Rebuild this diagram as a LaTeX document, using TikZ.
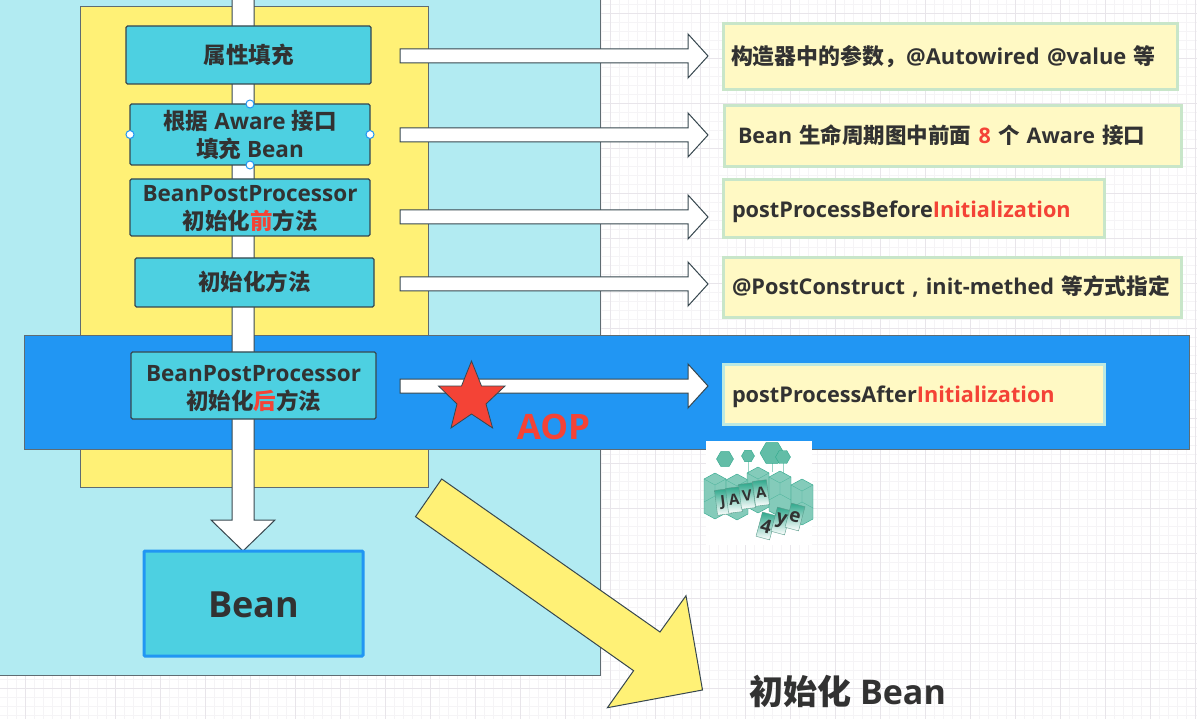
\documentclass[tikz,border=0pt]{standalone}
\usepackage{fontspec}
\setmainfont{Open Sans}
\newfontfamily\cjk{Noto Sans CJK SC}
\usetikzlibrary{calc,shapes.geometric}
\definecolor{ink}{HTML}{323232}
\definecolor{hot}{HTML}{F44336}
\definecolor{panelc}{HTML}{B2EBF2}
\definecolor{yel}{HTML}{FFF176}
\definecolor{band}{HTML}{2196F3}
\definecolor{boxc}{HTML}{4DD0E1}
\definecolor{edge}{HTML}{37474F}
\definecolor{notec}{HTML}{FFF9C4}
\definecolor{noteb}{HTML}{C8E6C9}
\definecolor{teal1}{HTML}{6FC2AE}
\definecolor{teal2}{HTML}{2FA88C}
\definecolor{gridmin}{HTML}{F5F4F6}
\definecolor{gridmaj}{HTML}{E8E5EA}
\newcommand\zh[1]{{\cjk\bfseries #1}}
\newcommand\red[1]{\textcolor{hot}{#1}}
\newcommand\dn[2]{\raisebox{-#1pt}[0pt][0pt]{#2}}
\pgfdeclarelayer{bg}
\pgfsetlayers{bg,main}
\tikzset{
  panel/.style={draw=edge!80,line width=1pt,fill=#1},
  boxn/.style={draw=edge,fill=boxc,line width=1.2pt,rounded corners=1.5pt,inner sep=0pt,outer sep=0pt,align=center,text=ink,font=\bfseries\fontsize{22.5}{28}\selectfont},
  notebox/.style={draw=noteb,fill=notec,line width=3pt,inner ysep=0pt,outer sep=0pt,align=left,text=ink,font=\bfseries\fontsize{21.7}{26}\selectfont},
  hollow/.style={draw=edge,fill=white,line width=1pt,line join=miter},
  handle/.style={circle,draw=band,fill=white,line width=1pt,minimum size=8pt,inner sep=0pt},
  card/.style={draw=teal1!80!black,line width=.4pt,minimum width=14pt,minimum height=25pt,inner sep=0pt,top color=teal2,bottom color=white,text=ink,font=\bfseries\fontsize{15}{15}\selectfont},
  hex/.style={fill=teal1,fill opacity=.85,draw=teal2,line width=.4pt},
  leaf/.style={fill=teal1!80!teal2,draw=teal2,line width=.4pt,regular polygon,regular polygon sides=6,inner sep=0pt,outer sep=0pt},
}
% hollow horizontal arrow: start coordinate, tip coordinate
\newcommand\harrow[2]{%
  \draw[hollow] ($(#1)+(0,-7)$) -- ($(#2)+(-20,-7)$) -- ($(#2)+(-20,-22)$) -- (#2)
     -- ($(#2)+(-20,22)$) -- ($(#2)+(-20,7)$) -- ($(#1)+(0,7)$) -- cycle;}
\newcommand\hexcol[2]{%
  \fill[hex] (#1-11,#2-17) -- (#1,#2-23) -- (#1+11,#2-17) -- (#1+11,#2+17) -- (#1,#2+23) -- (#1-11,#2+17) -- cycle;
  \draw[teal2,line width=.3pt,opacity=.7] (#1-11,#2-17) -- (#1,#2-11) -- (#1+11,#2-17) (#1,#2-11) -- (#1,#2) (#1-11,#2+6) -- (#1,#2) -- (#1+11,#2+6);}
\begin{document}
\begin{tikzpicture}[x=1pt,y=-1pt]
\useasboundingbox (0,0) rectangle (1197,719);
\clip (0,0) rectangle (1197,719);
\begin{pgfonlayer}{bg}
  \fill[white] (0,0) rectangle (1197,719);
  \foreach \x in {7,16,...,1197} \draw[gridmin,line width=.8pt] (\x,0) -- (\x,719);
  \foreach \y in {4,13,...,719} \draw[gridmin,line width=.8pt] (0,\y) -- (1197,\y);
  \foreach \x in {25,70,...,1197} \draw[gridmaj,line width=.8pt] (\x,0) -- (\x,719);
  \foreach \y in {13,58,...,719} \draw[gridmaj,line width=.8pt] (0,\y) -- (1197,\y);
  \draw[panel=panelc] (-3,-3) rectangle (600,675);
  \draw[panel=yel] (80,6.5) rectangle (428,487);
  \draw[panel=band] (24,336) rectangle (1189,449);
\end{pgfonlayer}

% process boxes
\node[boxn,minimum width=245,minimum height=58] (b1) at (248.5,55) {\dn{9}{\zh{属性填充}}};
\node[boxn,minimum width=240,minimum height=61] (b2) at (250,134.5) {\dn{9.5}{\zh{根据} Aware \zh{接口}}\\\dn{9.5}{\zh{填充} Bean}};
\node[boxn,minimum width=240,minimum height=57] (b3) at (250,207.5) {\dn{8}{BeanPostProcessor}\\\dn{8.5}{\zh{初始化\red{前}方法}}};
\node[boxn,minimum width=239,minimum height=49] (b4) at (254.5,282.5) {\dn{8.5}{\zh{初始化方法}}};
\node[boxn,minimum width=245,minimum height=67] (b5) at (253.5,385.5) {\dn{9.5}{BeanPostProcessor}\\\dn{9.5}{\zh{初始化\red{后}方法}}};
\node[draw=band,fill=boxc,line width=3pt,inner sep=0pt,outer sep=0pt,rounded corners=1pt,minimum width=219,minimum height=105,text=ink,font=\bfseries\fontsize{36}{40}\selectfont] (bean) at (253.5,603.5) {\dn{13.5}{Bean}};

% selection handles on the second box
\node[handle] (h1) at (b2.north) {};
\node[handle] (h2) at (b2.south) {};
\node[handle] (h3) at (b2.west) {};
\node[handle] (h4) at (b2.east) {};

% notes
\node[notebox,font=\bfseries\fontsize{21.9}{26}\selectfont,minimum width=454,minimum height=66,inner xsep=8pt,text width=438pt] (t1) at (950,57) {\dn{8}{\zh{构造器中的参数，}@Autowired @value \zh{等}}};
\node[notebox,font=\bfseries\fontsize{21.5}{26}\selectfont,minimum width=457,minimum height=61,inner xsep=14pt,text width=429pt] (t2) at (952.5,136.5) {\dn{7.5}{Bean \zh{生命周期图中前面} \red{8} \zh{个} Aware \zh{接口}}};
\node[notebox,minimum width=381,minimum height=58,inner xsep=9pt,text width=363pt] (t3) at (913.5,209) {\dn{9}{postProcessBefore\red{Initialization}}};
\node[notebox,minimum width=458,minimum height=60,inner xsep=9pt,text width=440pt] (t4) at (952,288) {\dn{7}{@PostConstruct , init-methed \zh{等方式指定}}};
\node[notebox,draw=panelc!60!noteb,minimum width=381,minimum height=60,inner xsep=9pt,text width=363pt] (t5) at (913.5,394) {\dn{8.3}{postProcessAfter\red{Initialization}}};

% main vertical arrow (behind the boxes)
\coordinate (vs) at (243,-5);
\coordinate (vt) at ($(bean.north)+(-10.5,0)$);
\begin{pgfonlayer}{bg}
  \draw[hollow] ($(vs)+(-11,0)$) -- ($(vt)+(-11,-31)$) -- ($(vt)+(-32,-31)$) -- (vt)
    -- ($(vt)+(32,-31)$) -- ($(vt)+(11,-31)$) -- ($(vs)+(11,0)$) -- cycle;
\end{pgfonlayer}

% horizontal arrows
\coordinate (s1) at (400,56);   \coordinate (e1) at (708,56);
\coordinate (s2) at (400,135);  \coordinate (e2) at (708,135);
\coordinate (s3) at (400,217);  \coordinate (e3) at (708,217);
\coordinate (s4) at (400,284);  \coordinate (e4) at (708,284);
\coordinate (s5) at (400,386);  \coordinate (e5) at (708,386);
\harrow{s1}{e1}\harrow{s2}{e2}\harrow{s3}{e3}\harrow{s4}{e4}\harrow{s5}{e5}

% star and AOP
\draw[fill=hot,draw=edge,line width=.8pt,line join=miter] (471.5,361) -- (481.5,386) -- (505,386) -- (486,404) -- (492.6,428) -- (471.5,414) -- (451,428) -- (457,404) -- (438.5,386) -- (461.5,386) -- cycle;
\node[text=hot,font=\bfseries\fontsize{35}{35}\selectfont,inner sep=0pt] (aop) at (553.5,427) {AOP};

% big yellow arrow
\draw[fill=yel,draw=edge,line width=1pt,line join=miter] (441.7,479) -- (660,632) -- (686,595.7) -- (702.5,690) -- (607.4,707.7) -- (633.6,670.7) -- (415.5,516.7) -- cycle;
\node[text=ink,font=\bfseries\fontsize{34}{36}\selectfont,inner sep=0pt,anchor=west] (result) at (749,691) {\zh{初始化} Bean};

% logo
\fill[white] (706,441) rectangle (812,545);
\draw[teal1!70,line width=.8pt] (748,456) -- (748,475) (772,453) -- (772,472) (783,457) -- (783,474);
\hexcol{715}{496}\hexcol{737}{497}\hexcol{758}{490}\hexcol{780}{494}\hexcol{802}{502}
\node[leaf,minimum size=17pt] (l1) at (725,459) {};
\node[leaf,minimum size=13pt] (l2) at (748,456) {};
\node[leaf,minimum size=24pt] (l3) at (772,453) {};
\node[leaf,minimum size=15pt] (l4) at (783,457) {};
\node[card,rotate=7] (c1) at (723,502) {J};
\node[card,rotate=7] (c2) at (734,500) {A};
\node[card,rotate=7] (c3) at (747,496) {V};
\node[card,rotate=7] (c4) at (761,493) {A};
\node[card,rotate=-15,font=\bfseries\fontsize{19}{19}\selectfont] (c5) at (766,526) {4};
\node[card,rotate=-15,font=\bfseries\fontsize{19}{19}\selectfont] (c6) at (781,521) {y};
\node[card,rotate=-15,font=\bfseries\fontsize{19}{19}\selectfont] (c7) at (795,517) {e};
\end{tikzpicture}
\end{document}
